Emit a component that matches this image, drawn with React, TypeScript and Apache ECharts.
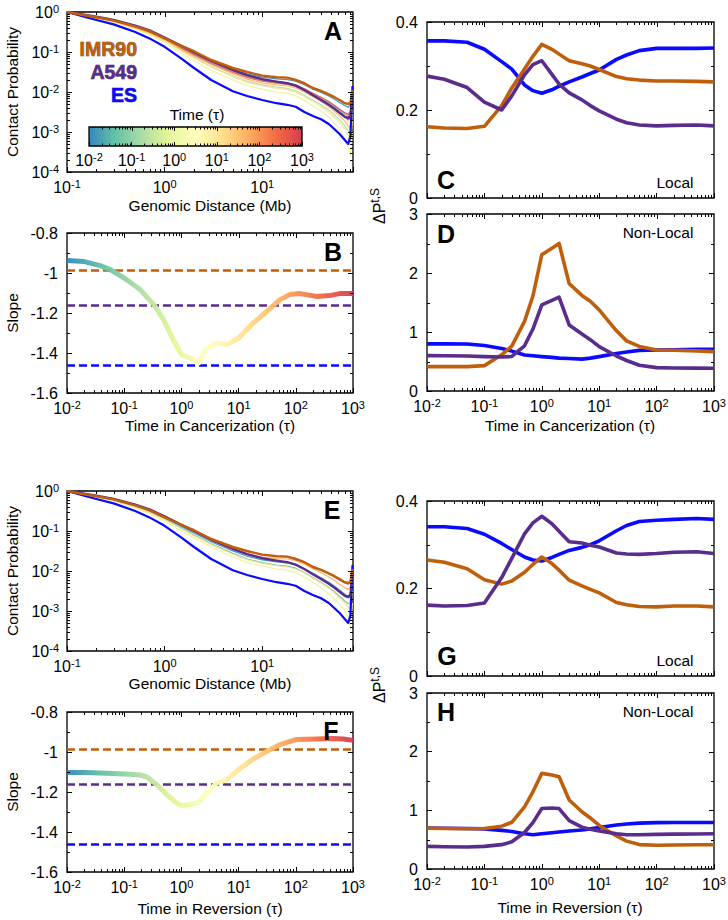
import React, { useEffect, useRef } from "react";
import * as echarts from "echarts";

const FONT = '"Liberation Sans", Arial, Helvetica, sans-serif';
const COL_IMR90 = "#bf5f0b";
const COL_A549 = "#5a2d8c";
const COL_ES = "#0a0aff";

// colour map used for time (tau), log-uniform from 1e-2 to 1e3
const TIME_CMAP = ["#3288bd", "#66c2a5", "#abdda4", "#e6f598", "#ffffbf", "#fee08b", "#fdae61", "#f46d43", "#d53e4f"];

// ---------- Panels A / E : contact probability vs genomic distance ----------
const DIST_MB = [0.1, 0.15, 0.2, 0.3, 0.5, 0.7, 1, 1.5, 2, 3, 5, 7, 10, 14, 18, 22, 27, 33, 40, 48, 55, 62, 70, 76, 80, 84];
// values are log10(contact probability)
const IMR90_LOGP = [0, -0.08, -0.13, -0.21, -0.36, -0.48, -0.66, -0.85, -0.98, -1.2, -1.4, -1.5, -1.59, -1.63, -1.64, -1.7, -1.78, -1.9, -1.97, -2.06, -2.13, -2.2, -2.28, -2.3, -2.28, -1.95];
const A549_LOGP = [0, -0.07, -0.12, -0.2, -0.34, -0.46, -0.64, -0.85, -1.0, -1.22, -1.45, -1.58, -1.68, -1.74, -1.78, -1.84, -1.95, -2.08, -2.2, -2.32, -2.42, -2.52, -2.62, -2.65, -2.6, -2.0];
const ES_LOGP = [0, -0.12, -0.2, -0.31, -0.5, -0.66, -0.87, -1.17, -1.4, -1.7, -1.98, -2.1, -2.2, -2.28, -2.32, -2.37, -2.5, -2.6, -2.68, -2.8, -2.93, -3.05, -3.2, -3.3, -3.1, -1.85];

// simulated curves during cancerization (panel A), log10 P
const CANCER_CURVE_COLOR = ["#3288bd", "#66c2a5", "#abdda4", "#e6f598", "#fee08b", "#fdae61", "#f46d43", "#d53e4f"];
const CANCER_T1 = [0, -0.07, -0.13, -0.21, -0.36, -0.48, -0.64, -0.87, -1.02, -1.23, -1.44, -1.55, -1.63, -1.67, -1.69, -1.73, -1.82, -1.93, -2.01, -2.1, -2.18, -2.26, -2.34, -2.38, -2.33, -2.0];
const CANCER_T2 = [0, -0.08, -0.14, -0.22, -0.38, -0.5, -0.67, -0.91, -1.07, -1.29, -1.51, -1.63, -1.72, -1.77, -1.8, -1.85, -1.95, -2.06, -2.16, -2.27, -2.36, -2.45, -2.55, -2.6, -2.55, -2.1];
const CANCER_T3 = [0, -0.08, -0.15, -0.24, -0.4, -0.54, -0.72, -0.97, -1.14, -1.37, -1.6, -1.73, -1.82, -1.88, -1.91, -1.97, -2.08, -2.2, -2.32, -2.45, -2.57, -2.69, -2.84, -2.97, -3.05, -2.5];
const CANCER_T4 = [0, -0.09, -0.16, -0.26, -0.43, -0.57, -0.76, -1.03, -1.22, -1.46, -1.7, -1.84, -1.93, -2.0, -2.03, -2.09, -2.21, -2.35, -2.48, -2.63, -2.78, -2.94, -3.15, -3.4, -3.6, -3.0];
const CANCER_T5 = [0, -0.09, -0.15, -0.24, -0.41, -0.54, -0.72, -0.98, -1.15, -1.38, -1.62, -1.76, -1.85, -1.91, -1.94, -2.0, -2.11, -2.24, -2.36, -2.5, -2.63, -2.76, -2.92, -3.1, -3.25, -2.7];
const CANCER_T6 = [0, -0.08, -0.14, -0.23, -0.39, -0.52, -0.69, -0.94, -1.1, -1.32, -1.55, -1.68, -1.77, -1.82, -1.85, -1.9, -2.0, -2.12, -2.24, -2.37, -2.48, -2.6, -2.73, -2.85, -2.9, -2.4];
const CANCER_T7 = [0, -0.07, -0.13, -0.22, -0.37, -0.5, -0.67, -0.91, -1.07, -1.28, -1.51, -1.64, -1.73, -1.78, -1.81, -1.86, -1.96, -2.07, -2.18, -2.3, -2.41, -2.51, -2.62, -2.7, -2.65, -2.2];
const CANCER_T8 = [0, -0.07, -0.13, -0.21, -0.36, -0.48, -0.65, -0.88, -1.04, -1.25, -1.47, -1.6, -1.69, -1.74, -1.77, -1.82, -1.92, -2.03, -2.13, -2.24, -2.34, -2.43, -2.52, -2.56, -2.48, -2.1];

// simulated curves during reversion (panel E)
const REVERSION_CURVE_COLOR = ["#3288bd", "#66c2a5", "#e6f598", "#fee08b", "#fdae61", "#d53e4f"];
const REV_T1 = [0, -0.08, -0.13, -0.22, -0.37, -0.5, -0.66, -0.89, -1.05, -1.27, -1.5, -1.63, -1.72, -1.77, -1.8, -1.85, -1.95, -2.06, -2.17, -2.28, -2.38, -2.48, -2.58, -2.63, -2.55, -2.2];
const REV_T2 = [0, -0.08, -0.14, -0.23, -0.39, -0.52, -0.7, -0.93, -1.1, -1.32, -1.56, -1.7, -1.79, -1.85, -1.88, -1.93, -2.04, -2.16, -2.28, -2.41, -2.52, -2.63, -2.75, -2.82, -2.8, -2.3];
const REV_T3 = [0, -0.09, -0.15, -0.25, -0.43, -0.57, -0.76, -1.0, -1.17, -1.4, -1.65, -1.79, -1.88, -1.95, -1.98, -2.04, -2.15, -2.28, -2.42, -2.57, -2.7, -2.84, -3.0, -3.2, -3.4, -2.8];
const REV_T4 = [0, -0.08, -0.14, -0.24, -0.4, -0.54, -0.72, -0.95, -1.12, -1.34, -1.58, -1.72, -1.81, -1.87, -1.9, -1.95, -2.05, -2.18, -2.3, -2.43, -2.55, -2.67, -2.8, -2.9, -2.95, -2.5];
const REV_T5 = [0, -0.07, -0.12, -0.2, -0.35, -0.47, -0.63, -0.86, -1.02, -1.23, -1.45, -1.57, -1.65, -1.69, -1.7, -1.74, -1.83, -1.94, -2.04, -2.15, -2.24, -2.33, -2.42, -2.46, -2.4, -2.0];
const REV_T6 = [0, -0.07, -0.12, -0.2, -0.34, -0.46, -0.62, -0.84, -0.99, -1.19, -1.4, -1.51, -1.59, -1.63, -1.64, -1.69, -1.78, -1.88, -1.97, -2.07, -2.15, -2.23, -2.3, -2.33, -2.25, -1.9];

// ---------- Panels B / F : slope ----------
const CANCER_SLOPE_TAU = [0.01, 0.02, 0.038, 0.057, 0.1, 0.19, 0.33, 0.49, 0.72, 1, 1.4, 2, 2.8, 4.1, 6.2, 10, 18, 31, 53, 78, 117, 230, 390, 585, 1000];
const CANCER_SLOPE = [-0.938, -0.943, -0.963, -0.983, -1.025, -1.083, -1.158, -1.233, -1.333, -1.408, -1.425, -1.45, -1.375, -1.35, -1.358, -1.325, -1.25, -1.192, -1.133, -1.108, -1.103, -1.117, -1.113, -1.103, -1.103];
const REVERSION_SLOPE_TAU = [0.01, 0.02, 0.038, 0.1, 0.19, 0.25, 0.37, 0.56, 0.83, 1, 1.4, 2, 2.8, 4.1, 6.2, 10, 18, 31, 53, 100, 230, 440, 680, 1000];
const REVERSION_SLOPE = [-1.102, -1.102, -1.105, -1.11, -1.115, -1.125, -1.163, -1.213, -1.255, -1.267, -1.263, -1.252, -1.205, -1.155, -1.138, -1.088, -1.035, -0.997, -0.963, -0.938, -0.935, -0.933, -0.935, -0.942];
const SLOPE_IMR90 = -0.988;
const SLOPE_A549 = -1.163;
const SLOPE_ES = -1.463;

// ---------- Panels C, D, G, H : Delta P ----------
const TAU = [0.01, 0.02, 0.05, 0.1, 0.2, 0.3, 0.5, 0.7, 1, 1.5, 2, 3, 5, 7, 10, 20, 30, 50, 100, 200, 500, 1000];
const C_ES = [0.357, 0.357, 0.354, 0.338, 0.31, 0.293, 0.257, 0.244, 0.238, 0.246, 0.254, 0.264, 0.275, 0.283, 0.291, 0.315, 0.325, 0.335, 0.34, 0.34, 0.34, 0.341];
const C_IMR90 = [0.162, 0.159, 0.158, 0.163, 0.21, 0.25, 0.293, 0.322, 0.349, 0.338, 0.327, 0.312, 0.305, 0.3, 0.292, 0.276, 0.271, 0.268, 0.266, 0.266, 0.265, 0.264];
const C_A549 = [0.277, 0.27, 0.251, 0.218, 0.2, 0.232, 0.28, 0.303, 0.312, 0.281, 0.259, 0.239, 0.223, 0.21, 0.198, 0.179, 0.171, 0.166, 0.164, 0.165, 0.166, 0.164];
const D_ES = [0.798, 0.798, 0.797, 0.77, 0.72, 0.676, 0.61, 0.597, 0.583, 0.57, 0.557, 0.55, 0.54, 0.557, 0.583, 0.637, 0.662, 0.688, 0.696, 0.7, 0.705, 0.707];
const D_IMR90 = [0.413, 0.413, 0.413, 0.43, 0.614, 0.76, 1.18, 1.61, 2.31, 2.42, 2.5, 1.82, 1.62, 1.52, 1.375, 1.02, 0.85, 0.756, 0.696, 0.69, 0.68, 0.668];
const D_A549 = [0.6, 0.598, 0.594, 0.583, 0.575, 0.585, 0.766, 1.05, 1.46, 1.535, 1.59, 1.12, 0.966, 0.87, 0.753, 0.593, 0.517, 0.436, 0.396, 0.39, 0.388, 0.385];
const G_ES = [0.341, 0.341, 0.337, 0.324, 0.303, 0.289, 0.272, 0.265, 0.263, 0.271, 0.278, 0.287, 0.294, 0.3, 0.309, 0.332, 0.344, 0.353, 0.356, 0.358, 0.36, 0.358];
const G_IMR90 = [0.265, 0.26, 0.245, 0.22, 0.21, 0.217, 0.237, 0.255, 0.272, 0.257, 0.242, 0.219, 0.206, 0.198, 0.19, 0.168, 0.163, 0.159, 0.158, 0.16, 0.16, 0.158];
const G_A549 = [0.162, 0.16, 0.161, 0.167, 0.225, 0.269, 0.325, 0.35, 0.365, 0.348, 0.331, 0.307, 0.304, 0.299, 0.295, 0.281, 0.279, 0.278, 0.28, 0.283, 0.284, 0.28];
const H_ES = [0.696, 0.694, 0.69, 0.684, 0.658, 0.64, 0.6, 0.585, 0.6, 0.618, 0.631, 0.647, 0.665, 0.684, 0.707, 0.75, 0.766, 0.782, 0.79, 0.792, 0.792, 0.792];
const H_IMR90 = [0.696, 0.69, 0.686, 0.69, 0.73, 0.796, 1.06, 1.316, 1.63, 1.603, 1.573, 1.177, 0.975, 0.87, 0.742, 0.563, 0.475, 0.416, 0.405, 0.41, 0.413, 0.413];
const H_A549 = [0.385, 0.38, 0.376, 0.385, 0.415, 0.464, 0.622, 0.79, 1.03, 1.04, 1.03, 0.826, 0.713, 0.677, 0.65, 0.6, 0.583, 0.583, 0.59, 0.594, 0.597, 0.6];

// colour-bar range
const COLORBAR_MIN = 0.01;
const COLORBAR_MAX = 1000;

type AxisSpec = { min: number; max: number; log?: boolean; step?: number; labels?: boolean };
type Panel = { left: number; top: number; width: number; height: number; x: AxisSpec; y: AxisSpec; hideY?: boolean; cb?: boolean };

const PANELS: Panel[] = [
  { left: 67, top: 12, width: 286, height: 160, x: { min: 0.1, max: 85, log: true, labels: true }, y: { min: 1e-4, max: 1, log: true } },
  { left: 67, top: 233, width: 286, height: 160, x: { min: 0.01, max: 1000, log: true, labels: true }, y: { min: -1.6, max: -0.8, step: 0.2 } },
  { left: 427, top: 22, width: 287, height: 176, x: { min: 0.01, max: 1000, log: true, labels: false }, y: { min: 0, max: 0.4, step: 0.2 } },
  { left: 427, top: 214, width: 287, height: 177, x: { min: 0.01, max: 1000, log: true, labels: true }, y: { min: 0, max: 3, step: 1 } },
  { left: 67, top: 491, width: 286, height: 160, x: { min: 0.1, max: 85, log: true, labels: true }, y: { min: 1e-4, max: 1, log: true } },
  { left: 67, top: 712, width: 286, height: 160, x: { min: 0.01, max: 1000, log: true, labels: true }, y: { min: -1.6, max: -0.8, step: 0.2 } },
  { left: 427, top: 501, width: 287, height: 175, x: { min: 0.01, max: 1000, log: true, labels: false }, y: { min: 0, max: 0.4, step: 0.2 } },
  { left: 427, top: 693, width: 287, height: 176, x: { min: 0.01, max: 1000, log: true, labels: true }, y: { min: 0, max: 3, step: 1 } },
  { left: 89, top: 127, width: 213, height: 19, x: { min: COLORBAR_MIN, max: COLORBAR_MAX, log: true, labels: true }, y: { min: 0, max: 1 }, hideY: true, cb: true },
];

function powLabel(v: number) {
  const e = Math.log10(v);
  const r = Math.round(e);
  if (Math.abs(e - r) > 1e-6) return "";
  return `{b|10}{s|${r}}`;
}
const POW_RICH = {
  b: { fontSize: 16, fontFamily: FONT, color: "#000", lineHeight: 18 },
  s: { fontSize: 11, fontFamily: FONT, color: "#000", verticalAlign: "top", lineHeight: 11 },
};

function logMajors(min: number, max: number) {
  const out: number[] = [];
  for (let d = Math.ceil(Math.log10(min) - 1e-9); d <= Math.floor(Math.log10(max) + 1e-9); d++) out.push(Math.pow(10, d));
  return out;
}
function logMinors(min: number, max: number) {
  const out: number[] = [];
  for (let d = Math.floor(Math.log10(min)); d <= Math.ceil(Math.log10(max)); d++)
    for (let k = 2; k <= 9; k++) {
      const v = k * Math.pow(10, d);
      if (v > min * 1.0001 && v < max * 0.9999) out.push(v);
    }
  return out;
}
function linMajors(a: AxisSpec) {
  const out: number[] = [];
  const n = Math.round((a.max - a.min) / (a.step as number));
  for (let i = 0; i <= n; i++) out.push(a.min + i * (a.step as number));
  return out;
}
function linMinors(a: AxisSpec) {
  const out: number[] = [];
  const n = Math.round((a.max - a.min) / (a.step as number));
  for (let i = 0; i < n; i++) out.push(a.min + (i + 0.5) * (a.step as number));
  return out;
}

function tickSeries(i: number, p: Panel) {
  const data: number[][] = [];
  const inside = (v: number, a: AxisSpec) => v > a.min + (a.max - a.min) * 1e-6 && v < a.max - (a.max - a.min) * 1e-6;
  const majLen = p.cb ? 4 : 5;
  const minLen = p.cb ? 2.5 : 3;
  const xMaj = p.x.log ? logMajors(p.x.min, p.x.max) : linMajors(p.x);
  const xMin = p.x.log ? logMinors(p.x.min, p.x.max) : linMinors(p.x);
  xMaj.filter((v) => inside(v, p.x)).forEach((v) => data.push([v, p.y.min, 0, majLen, 0]));
  xMin.forEach((v) => data.push([v, p.y.min, 0, minLen, 1]));
  if (!p.hideY) {
    const yMaj = p.y.log ? logMajors(p.y.min, p.y.max) : linMajors(p.y);
    const yMin = p.y.log ? logMinors(p.y.min, p.y.max) : linMinors(p.y);
    yMaj.filter((v) => inside(v, p.y)).forEach((v) => data.push([p.x.min, v, 1, majLen, 0]));
    yMin.forEach((v) => data.push([p.x.min, v, 1, minLen, 1]));
  }
  return {
    type: "custom",
    xAxisIndex: i,
    yAxisIndex: i,
    silent: true,
    z: 20,
    data,
    renderItem: (params: any, api: any) => {
      const cs = params.coordSys;
      const kind = api.value(2);
      const len = api.value(3);
      const both = api.value(4);
      const pt = api.coord([api.value(0), api.value(1)]);
      const st = { stroke: "#000", lineWidth: 1 };
      const ch: any[] = [];
      if (kind === 0) {
        const x = Math.round(pt[0]) + 0.5;
        ch.push({ type: "line", shape: { x1: x, y1: cs.y, x2: x, y2: cs.y + len }, style: st });
        if (both) ch.push({ type: "line", shape: { x1: x, y1: cs.y + cs.height, x2: x, y2: cs.y + cs.height - len }, style: st });
      } else {
        const y = Math.round(pt[1]) + 0.5;
        ch.push({ type: "line", shape: { x1: cs.x + cs.width, y1: y, x2: cs.x + cs.width - len, y2: y }, style: st });
        if (both) ch.push({ type: "line", shape: { x1: cs.x, y1: y, x2: cs.x + len, y2: y }, style: st });
      }
      return { type: "group", children: ch };
    },
  };
}

function lineSeries(gi: number, xs: number[], ys: number[], color: any, width: number, z = 5, opacity = 1, dashed = false) {
  return {
    type: "line",
    xAxisIndex: gi,
    yAxisIndex: gi,
    data: xs.map((x, k) => [x, ys[k]]),
    showSymbol: false,
    symbol: "none",
    silent: true,
    z,
    emphasis: { disabled: true },
    lineStyle: { color, width, opacity, type: dashed ? [8, 4] : "solid", cap: "butt", join: "round" },
  };
}
function logLineSeries(gi: number, logs: number[], color: string, width: number, z = 5, opacity = 1) {
  return lineSeries(gi, DIST_MB, logs.map((l) => Math.pow(10, l)), color, width, z, opacity);
}

function gradient() {
  return new echarts.graphic.LinearGradient(
    0, 0, 1, 0,
    TIME_CMAP.map((c, k) => ({ offset: k / (TIME_CMAP.length - 1), color: c }))
  );
}

function txt(x: number, y: number, text: string, o: any = {}) {
  return {
    type: "text",
    x,
    y,
    rotation: o.rot || 0,
    silent: true,
    z: 100,
    style: {
      text,
      fontSize: o.size || 15,
      fontFamily: FONT,
      fontWeight: o.weight || "normal",
      fill: o.color || "#000",
      stroke: o.stroke,
      lineWidth: o.stroke ? 0.6 : 0,
      align: o.align || "center",
      verticalAlign: "middle",
      textAlign: o.align || "center",
      textVerticalAlign: "middle",
      rich: o.rich,
    },
  };
}

function buildOption() {
  const grid = PANELS.map((p) => ({
    left: p.left,
    top: p.top,
    width: p.width,
    height: p.height,
    containLabel: false,
    outerBoundsMode: "none",
    show: true,
    borderColor: "#000",
    borderWidth: 1.3,
    backgroundColor: p.cb ? gradient() : "transparent",
  }));

  const xAxis = PANELS.map((p, i) => ({
    type: p.x.log ? "log" : "value",
    logBase: 10,
    gridIndex: i,
    min: p.x.min,
    max: p.x.max,
    axisLine: { show: false },
    splitLine: { show: false },
    minorTick: { show: false },
    axisTick: { show: true, inside: true, length: p.cb ? 4 : 5, lineStyle: { color: "#000", width: 1 } },
    axisLabel: { show: !!p.x.labels, formatter: powLabel, rich: POW_RICH, margin: p.cb ? 5 : 6, color: "#000" },
  }));

  const yAxis = PANELS.map((p, i) => {
    if (p.hideY) return { type: "value", gridIndex: i, min: 0, max: 1, show: false };
    if (p.y.log)
      return {
        type: "log",
        logBase: 10,
        gridIndex: i,
        min: p.y.min,
        max: p.y.max,
        axisLine: { show: false },
        splitLine: { show: false },
        axisTick: { show: true, inside: true, length: 5, lineStyle: { color: "#000", width: 1 } },
        axisLabel: { formatter: powLabel, rich: POW_RICH, margin: 8, color: "#000" },
      };
    return {
      type: "value",
      gridIndex: i,
      min: p.y.min,
      max: p.y.max,
      interval: p.y.step,
      axisLine: { show: false },
      splitLine: { show: false },
      axisTick: { show: true, inside: true, length: 5, lineStyle: { color: "#000", width: 1 } },
      axisLabel: { margin: 9, color: "#000", fontSize: 16, fontFamily: FONT },
    };
  });

  const series: any[] = [];
  // Panel A
  [CANCER_T1, CANCER_T2, CANCER_T3, CANCER_T4, CANCER_T5, CANCER_T6, CANCER_T7, CANCER_T8].forEach((c, k) =>
    series.push(logLineSeries(0, c, CANCER_CURVE_COLOR[k], 1.2, 3, 0.9))
  );
  series.push(logLineSeries(0, ES_LOGP, COL_ES, 2.2, 6));
  series.push(logLineSeries(0, A549_LOGP, COL_A549, 2.4, 7));
  series.push(logLineSeries(0, IMR90_LOGP, COL_IMR90, 2.4, 8));
  // Panel E
  [REV_T1, REV_T2, REV_T3, REV_T4, REV_T5, REV_T6].forEach((c, k) =>
    series.push(logLineSeries(4, c, REVERSION_CURVE_COLOR[k], 1.2, 3, 0.9))
  );
  series.push(logLineSeries(4, ES_LOGP, COL_ES, 2.2, 6));
  series.push(logLineSeries(4, A549_LOGP, COL_A549, 2.4, 7));
  series.push(logLineSeries(4, IMR90_LOGP, COL_IMR90, 2.4, 8));

  // Panels B & F
  [1, 5].forEach((gi) => {
    series.push(lineSeries(gi, [0.01, 1000], [SLOPE_IMR90, SLOPE_IMR90], COL_IMR90, 2.5, 3, 1, true));
    series.push(lineSeries(gi, [0.01, 1000], [SLOPE_A549, SLOPE_A549], COL_A549, 2.5, 3, 1, true));
    series.push(lineSeries(gi, [0.01, 1000], [SLOPE_ES, SLOPE_ES], COL_ES, 2.5, 3, 1, true));
  });
  series.push(lineSeries(1, CANCER_SLOPE_TAU, CANCER_SLOPE, gradient(), 5, 6, 0.95));
  series.push(lineSeries(5, REVERSION_SLOPE_TAU, REVERSION_SLOPE, gradient(), 5, 6, 0.95));

  // Delta P panels
  const dp: [number, number[], number[], number[]][] = [
    [2, C_ES, C_IMR90, C_A549],
    [3, D_ES, D_IMR90, D_A549],
    [6, G_ES, G_IMR90, G_A549],
    [7, H_ES, H_IMR90, H_A549],
  ];
  dp.forEach(([gi, es, imr, a549]) => {
    series.push(lineSeries(gi, TAU, es, COL_ES, 3.6, 5));
    series.push(lineSeries(gi, TAU, imr, COL_IMR90, 3.6, 6));
    series.push(lineSeries(gi, TAU, a549, COL_A549, 3.6, 7));
  });

  PANELS.forEach((p, i) => series.push(tickSeries(i, p)));

  const supRich = {
    a: { fontSize: 16, fontFamily: FONT, color: "#000", lineHeight: 20 },
    s: { fontSize: 12, fontFamily: FONT, color: "#000", verticalAlign: "top", lineHeight: 12 },
  };

  const T = 15.5;
  const graphic: any[] = [
    // panel letters
    txt(333, 31, "A", { size: 25, weight: "bold" }),
    txt(333, 252, "B", { size: 25, weight: "bold" }),
    txt(446, 180, "C", { size: 25, weight: "bold" }),
    txt(446, 234, "D", { size: 25, weight: "bold" }),
    txt(332, 510, "E", { size: 25, weight: "bold" }),
    txt(331, 731, "F", { size: 25, weight: "bold" }),
    txt(447, 656, "G", { size: 25, weight: "bold" }),
    txt(446, 712, "H", { size: 25, weight: "bold" }),
    // region tags
    txt(675, 182, "Local", { size: T }),
    txt(658, 232, "Non-Local", { size: T }),
    txt(675, 660, "Local", { size: T }),
    txt(658, 711, "Non-Local", { size: T }),
    // legend words
    txt(137, 49, "IMR90", { size: 19.5, weight: "bold", color: COL_IMR90, align: "right", stroke: "#5a2a05" }),
    txt(137, 72, "A549", { size: 19.5, weight: "bold", color: COL_A549, align: "right", stroke: "#2a1045" }),
    txt(137, 95, "ES", { size: 19.5, weight: "bold", color: COL_ES, align: "right", stroke: "#000080" }),
    txt(197, 114, "Time (τ)", { size: T }),
    // axis titles
    txt(12, 92, "Contact Probability", { size: T, rot: Math.PI / 2 }),
    txt(12, 571, "Contact Probability", { size: T, rot: Math.PI / 2 }),
    txt(12, 313, "Slope", { size: T, rot: Math.PI / 2 }),
    txt(12, 792, "Slope", { size: T, rot: Math.PI / 2 }),
    txt(379, 206, "{a|ΔP}{s|t,S}", { rot: Math.PI / 2, rich: supRich }),
    txt(379, 685, "{a|ΔP}{s|t,S}", { rot: Math.PI / 2, rich: supRich }),
    txt(210, 205, "Genomic Distance (Mb)", { size: T }),
    txt(210, 683, "Genomic Distance (Mb)", { size: T }),
    txt(210, 425, "Time in Cancerization (τ)", { size: T }),
    txt(570, 425, "Time in Cancerization (τ)", { size: T }),
    txt(210, 908, "Time in Reversion (τ)", { size: T }),
    txt(570, 907, "Time in Reversion (τ)", { size: T }),
  ];

  return {
    animation: false,
    backgroundColor: "#fff",
    textStyle: { fontFamily: FONT },
    grid,
    xAxis,
    yAxis,
    series,
    graphic,
  };
}

export default function App() {
  const ref = useRef<HTMLDivElement>(null);
  useEffect(() => {
    document.body.style.margin = "0";
    const chart = echarts.init(ref.current as HTMLDivElement, null, { renderer: "svg" });
    chart.setOption(buildOption() as any);
    return () => chart.dispose();
  }, []);
  return <div ref={ref} style={{ width: 728, height: 920 }} />;
}
